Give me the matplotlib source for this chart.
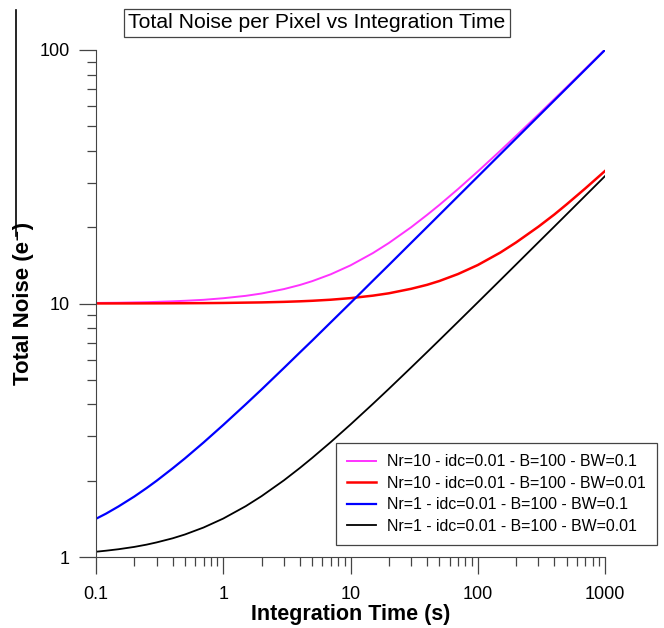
import matplotlib.pyplot as plt
from matplotlib.ticker import FixedLocator, NullFormatter, LogLocator
from matplotlib.lines import Line2D

plt.rcParams["font.family"] = ["Liberation Sans", "DejaVu Sans"]

temps = [0.1, 0.12, 0.15, 0.2, 0.25, 0.3, 0.4, 0.5, 0.7, 1, 1.5, 2, 3, 4, 5,
         7, 10, 15, 20, 30, 40, 50, 70, 100, 150, 200, 300, 400, 500, 700,
         1000]

# Total noise (e-) for each configuration
bruit_nr10_bw01 = [10.05, 10.06, 10.07, 10.10, 10.12, 10.15, 10.20, 10.25,
                   10.34, 10.49, 10.72, 10.95, 11.40, 11.83, 12.25, 13.04,
                   14.14, 15.81, 17.32, 20.0, 22.37, 24.49, 28.28, 33.17,
                   40.0, 45.83, 55.68, 64.06, 71.41, 84.26, 100.5]
bruit_nr10_bw001 = [10.005, 10.006, 10.008, 10.01, 10.013, 10.015, 10.02,
                    10.025, 10.035, 10.05, 10.08, 10.10, 10.15, 10.20, 10.25,
                    10.35, 10.50, 10.74, 10.97, 11.43, 11.85, 12.27, 13.07,
                    14.18, 15.87, 17.41, 20.10, 22.45, 24.62, 28.44, 33.32]
bruit_nr1_bw01 = [1.415, 1.483, 1.582, 1.732, 1.871, 2.000, 2.237, 2.449,
                  2.829, 3.318, 4.00, 4.58, 5.57, 6.41, 7.14, 8.43, 10.05,
                  12.30, 14.18, 17.36, 20.03, 22.39, 26.49, 31.65, 38.76,
                  44.75, 54.81, 63.29, 70.75, 83.71, 100.05]
bruit_nr1_bw001 = [1.049, 1.059, 1.073, 1.096, 1.119, 1.142, 1.185, 1.227,
                   1.307, 1.418, 1.586, 1.738, 2.007, 2.245, 2.460, 2.841,
                   3.332, 4.019, 4.604, 5.595, 6.434, 7.176, 8.468, 10.10,
                   12.35, 14.25, 17.44, 20.12, 22.49, 26.61, 31.80]

etiquettes = [
    "Nr=10 - idc=0.01 - B=100 - BW=0.1",
    "Nr=10 - idc=0.01 - B=100 - BW=0.01",
    "Nr=1 - idc=0.01 - B=100 - BW=0.1",
    "Nr=1 - idc=0.01 - B=100 - BW=0.01",
]
x_ticks = [0.1, 1, 10, 100, 1000]
x_labels = ["0.1", "1", "10", "100", "1000"]
y_ticks = [1, 10, 100]
y_labels = ["1", "10", "100"]

fig = plt.figure(figsize=(6.64, 6.28), dpi=100)
ax = fig.add_axes([96 / 664, 1 - 557 / 628, 509 / 664, 507 / 628])

ax.plot(temps, bruit_nr10_bw01, color="#ff33ff", lw=1.4, label=etiquettes[0])
ax.plot(temps, bruit_nr10_bw001, color="#ff0000", lw=1.8, label=etiquettes[1])
ax.plot(temps, bruit_nr1_bw01, color="#0000ff", lw=1.6, label=etiquettes[2])
ax.plot(temps, bruit_nr1_bw001, color="black", lw=1.3, label=etiquettes[3])

ax.set_xscale("log")
ax.set_yscale("log")
ax.set_xlim(0.1, 1000)
ax.set_ylim(1, 100)

ax.xaxis.set_major_locator(FixedLocator(x_ticks))
ax.set_xticklabels(x_labels)
ax.yaxis.set_major_locator(FixedLocator(y_ticks))
ax.set_yticklabels(y_labels)
ax.xaxis.set_minor_locator(LogLocator(base=10, subs=range(2, 10)))
ax.yaxis.set_minor_locator(LogLocator(base=10, subs=range(2, 10)))
ax.xaxis.set_minor_formatter(NullFormatter())
ax.yaxis.set_minor_formatter(NullFormatter())

ax.tick_params(which="major", direction="out", length=12.2, width=0.9,
               labelsize=13, color="#444444")
ax.tick_params(which="minor", direction="out", length=6.8, width=0.9,
               color="#444444")
ax.tick_params(axis="x", which="major", pad=8.5)
ax.tick_params(axis="y", which="major", pad=6.5)

ax.spines["top"].set_visible(False)
ax.spines["right"].set_visible(False)
ax.spines["left"].set_color("#444444")
ax.spines["bottom"].set_color("#444444")

ax.set_xlabel("Integration Time (s)", fontsize=15.5, fontweight="bold",
              labelpad=1)
ax.set_ylabel("Total Noise (e\u207b)", fontsize=16, fontweight="bold",
              labelpad=4)

fig.text(317 / 664, 1 - 23 / 628, "Total Noise per Pixel vs Integration Time",
         fontsize=15.2, ha="center", va="center",
         bbox=dict(boxstyle="square,pad=0.22", facecolor="white",
                   edgecolor="#444444", linewidth=0.9))

leg = ax.legend(loc="upper left", bbox_to_anchor=(336 / 664, 1 - 443 / 628),
                bbox_transform=fig.transFigure, fontsize=11.4, fancybox=False,
                edgecolor="#444444", framealpha=1, handlelength=1.8,
                borderpad=0.7, labelspacing=0.42, handletextpad=0.7,
                borderaxespad=0)
leg.get_frame().set_linewidth(0.9)

# Trait vertical au bord gauche de l'image
fig.add_artist(Line2D([15.7 / 664, 15.7 / 664], [1 - 10 / 628, 1 - 236 / 628],
                      transform=fig.transFigure, color="black", lw=1.2))

fig.savefig("out.png", dpi=100)
